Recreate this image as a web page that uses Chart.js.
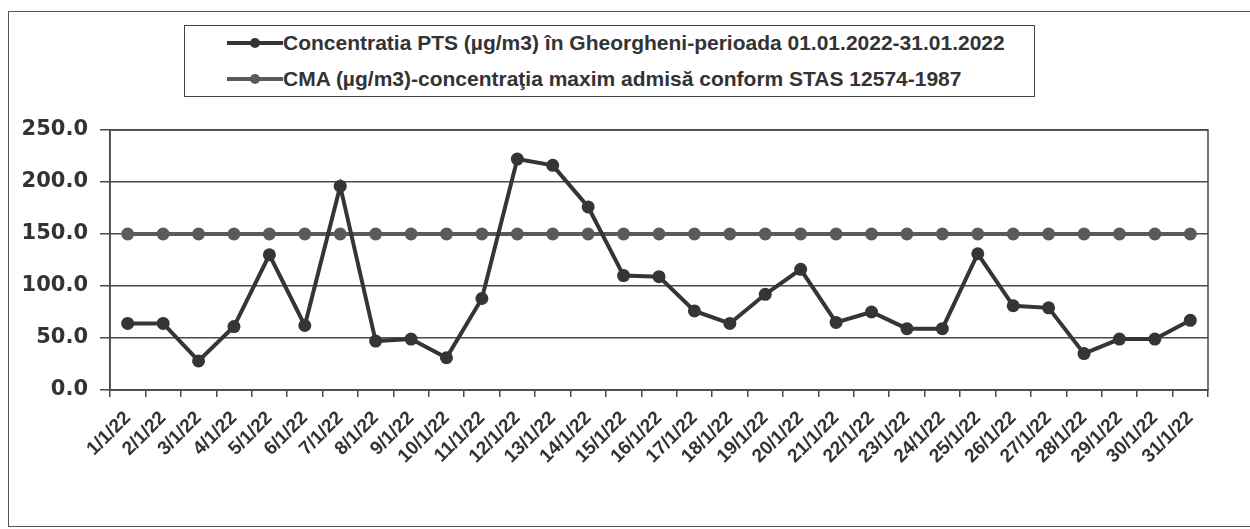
<!DOCTYPE html>
<html>
<head>
<meta charset="utf-8">
<script src="https://cdn.jsdelivr.net/npm/chart.js@4.4.0/dist/chart.umd.min.js"></script>
<style>
  html, body { margin: 0; padding: 0; background: #fff; }
  #wrap { position: relative; width: 1250px; height: 529px; overflow: hidden; }
  #frame { position: absolute; left: 8px; top: 11px; width: 1300px; height: 514px; border: 1.5px solid #555; }
  #chart { position: absolute; left: 0; top: 0; }
  #legend { position: absolute; left: 184px; top: 25px; width: 849px; height: 70px; border: 1.5px solid #444; background: #fff;
    font: bold 21px 'Liberation Sans', Arial, sans-serif; color: #333; }
  .row { position: absolute; left: 42px; height: 22px; line-height: 22px; white-space: nowrap; }
  .key { display: inline-block; position: relative; width: 56px; height: 22px; vertical-align: top; }
  .key .ln { position: absolute; left: 0; right: 0; top: 9px; height: 4px; }
  .key .dot { position: absolute; left: 23px; top: 6px; width: 10px; height: 10px; border-radius: 50%; }
</style>
</head>
<body>
<div id="wrap">
  <div id="frame"></div>
  <canvas id="chart" width="1250" height="529"></canvas>
  <div id="legend"></div>
</div>
<script>
const dayLabels = ['1/1/22', '2/1/22', '3/1/22', '4/1/22', '5/1/22', '6/1/22', '7/1/22', '8/1/22',
  '9/1/22', '10/1/22', '11/1/22', '12/1/22', '13/1/22', '14/1/22', '15/1/22', '16/1/22',
  '17/1/22', '18/1/22', '19/1/22', '20/1/22', '21/1/22', '22/1/22', '23/1/22', '24/1/22',
  '25/1/22', '26/1/22', '27/1/22', '28/1/22', '29/1/22', '30/1/22', '31/1/22'];

// PTS concentration, ug/m3
const ptsValues = [64, 64, 28, 61, 130, 62, 196, 47, 49, 31, 88, 222, 216, 176, 110, 109,
  76, 64, 92, 116, 65, 75, 59, 59, 131, 81, 79, 35, 49, 49, 67];

// CMA limit, constant
const cmaValues = [150, 150, 150, 150, 150, 150, 150, 150, 150, 150, 150, 150, 150, 150, 150, 150,
  150, 150, 150, 150, 150, 150, 150, 150, 150, 150, 150, 150, 150, 150, 150];

const ptsLabel = 'Concentratia PTS (µg/m3) în Gheorgheni-perioada 01.01.2022-31.01.2022';
const cmaLabel = 'CMA (µg/m3)-concentraţia maxim admisă conform STAS 12574-1987';

const yTicks = [0, 50, 100, 150, 200, 250];

const ptsColor = '#353535';
const cmaColor = '#5a5a5a';
const axisColor = '#4a4a4a';

// box around the plot area (right edge has no axis of its own)
const plotBorder = {
  id: 'plotBorder',
  afterDraw(chart) {
    const { ctx, chartArea: a } = chart;
    ctx.save();
    ctx.strokeStyle = axisColor;
    ctx.lineWidth = 1.5;
    ctx.strokeRect(a.left, a.top, a.right - a.left, a.bottom - a.top);
    ctx.restore();
  }
};

const chart = new Chart(document.getElementById('chart').getContext('2d'), {
  type: 'line',
  data: {
    labels: dayLabels,
    datasets: [{
      label: ptsLabel,
      data: ptsValues,
      borderColor: ptsColor,
      backgroundColor: ptsColor,
      pointBackgroundColor: ptsColor,
      borderWidth: 4,
      pointRadius: 6.5,
      pointBorderWidth: 0,
      tension: 0
    }, {
      label: cmaLabel,
      data: cmaValues,
      borderColor: cmaColor,
      backgroundColor: cmaColor,
      pointBackgroundColor: cmaColor,
      borderWidth: 4,
      pointRadius: 6.5,
      pointBorderWidth: 0,
      tension: 0
    }]
  },
  options: {
    responsive: false,
    animation: false,
    layout: { padding: { top: 130, right: 42, bottom: 0, left: 0 } },
    plugins: { legend: { display: false }, tooltip: { enabled: false } },
    scales: {
      x: {
        offset: true,
        grid: { offset: true, drawOnChartArea: false, tickLength: 7, color: axisColor, lineWidth: 1.5 },
        border: { color: axisColor, width: 1.5 },
        ticks: {
          autoSkip: false, minRotation: 45, maxRotation: 45, padding: 10,
          color: '#333', font: { family: "'Liberation Sans', Arial, sans-serif", size: 19, weight: 'bold' }
        },
        afterFit(s) { s.height = 139; }
      },
      y: {
        min: 0, max: 250,
        afterBuildTicks(s) { s.ticks = yTicks.map(v => ({ value: v })); },
        grid: { color: axisColor, lineWidth: 1.5, tickLength: 10 },
        border: { color: axisColor, width: 1.5 },
        ticks: {
          padding: 12, color: '#333',
          font: { family: "'DejaVu Sans', sans-serif", size: 21, weight: 'bold' },
          callback: v => Number(v).toFixed(1)
        },
        afterFit(s) { s.width = 110; }
      }
    }
  },
  plugins: [plotBorder]
});

// legend box, built from the datasets
const legend = document.getElementById('legend');
chart.data.datasets.forEach((ds, i) => {
  const row = document.createElement('div');
  row.className = 'row';
  row.style.top = (i === 0 ? 6 : 42) + 'px';
  row.innerHTML = '<span class="key"><span class="ln"></span><span class="dot"></span></span>';
  row.querySelector('.ln').style.background = ds.borderColor;
  row.querySelector('.dot').style.background = ds.borderColor;
  const t = document.createElement('span');
  t.textContent = ds.label;
  row.appendChild(t);
  legend.appendChild(row);
});
</script>
</body>
</html>
